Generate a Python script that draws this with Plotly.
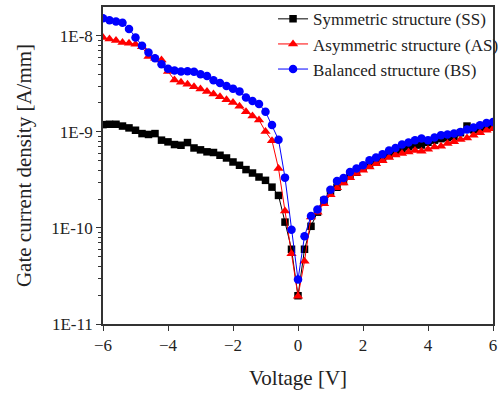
import plotly.graph_objects as go

voltage = [round(-6 + 0.2 * i, 1) for i in range(61)]

ss_current = [
    1.19e-9, 1.2e-9, 1.2e-9, 1.15e-9, 1.1e-9, 1.04e-9, 9.6e-10, 9.4e-10, 9.6e-10, 8.2e-10,
    7.87e-10, 7.38e-10, 7.26e-10, 7.74e-10, 6.8e-10, 6.5e-10, 6.2e-10, 6.1e-10, 5.71e-10, 5.35e-10,
    4.86e-10, 4.49e-10, 4.05e-10, 3.73e-10, 3.39e-10, 3.13e-10, 2.66e-10, 2.18e-10, 1.15e-10, 6.0e-11,
    1.97e-11,
    6.0e-11, 1.04e-10, 1.46e-10, 1.93e-10, 2.4e-10, 2.65e-10, 3.05e-10, 3.45e-10, 3.8e-10, 4.2e-10,
    4.6e-10, 4.95e-10, 5.3e-10, 5.7e-10, 6.2e-10, 6.6e-10, 7.0e-10, 7.3e-10, 7.3e-10, 7.8e-10,
    8.2e-10, 8.5e-10, 8.7e-10, 9.0e-10, 9.8e-10, 1.15e-9, 1.05e-9, 1.08e-9, 1.12e-9, 1.18e-9,
]

as_current = [
    9.6e-9, 9.24e-9, 8.93e-9, 8.5e-9, 8.39e-9, 8.19e-9, 7.7e-9, 6.08e-9, 5.85e-9, 5.6e-9,
    4.24e-9, 3.47e-9, 3.28e-9, 3.13e-9, 2.95e-9, 2.79e-9, 2.64e-9, 2.48e-9, 2.32e-9, 2.16e-9,
    2.02e-9, 1.85e-9, 1.62e-9, 1.46e-9, 1.33e-9, 1.01e-9, 8.1e-10, 4.16e-10, 1.5e-10, 5.4e-11,
    1.95e-11,
    4.5e-11, 1.3e-10, 1.46e-10, 1.79e-10, 2.22e-10, 2.62e-10, 2.93e-10, 3.34e-10, 3.68e-10, 3.98e-10,
    4.31e-10, 4.67e-10, 5.0e-10, 5.4e-10, 5.75e-10, 5.95e-10, 6.18e-10, 6.4e-10, 6.3e-10, 6.6e-10,
    6.97e-10, 7.1e-10, 7.57e-10, 7.87e-10, 8.34e-10, 8.66e-10, 9.25e-10, 9.77e-10, 1.04e-9, 1.08e-9,
]

bs_current = [
    1.52e-8, 1.45e-8, 1.41e-8, 1.37e-8, 1.18e-8, 9.6e-9, 7.9e-9, 6.7e-9, 5.85e-9, 5.05e-9,
    4.55e-9, 4.35e-9, 4.25e-9, 4.28e-9, 4.22e-9, 3.98e-9, 3.82e-9, 3.45e-9, 3.22e-9, 3.0e-9,
    2.82e-9, 2.64e-9, 2.28e-9, 2.1e-9, 1.95e-9, 1.62e-9, 1.18e-9, 8.3e-10, 3.34e-10, 9.6e-11,
    2.9e-11,
    8.2e-11, 1.33e-10, 1.56e-10, 1.97e-10, 2.5e-10, 3.08e-10, 3.31e-10, 3.82e-10, 4.15e-10, 4.49e-10,
    5.06e-10, 5.4e-10, 5.85e-10, 6.4e-10, 6.8e-10, 7.38e-10, 7.74e-10, 8.18e-10, 8.53e-10, 8.2e-10,
    8.75e-10, 9.25e-10, 9.4e-10, 9.6e-10, 1.0e-9, 1.06e-9, 1.11e-9, 1.17e-9, 1.24e-9, 1.27e-9,
]

series_names = ["Symmetric structure (SS)", "Asymmetric structure (AS)", "Balanced structure (BS)"]
x_ticks = [-6, -4, -2, 0, 2, 4, 6]
y_tickvals = [1e-11, 1e-10, 1e-9, 1e-8]
y_ticktext = ["1E-11", "1E-10", "1E-9", "1E-8"]

minor_vals = [m * 10.0 ** e for e in range(-11, -7) for m in range(2, 10)]

FONT = "Liberation Serif"

fig = go.Figure()
styles = [
    (ss_current, "black", "square", 7.5),
    (as_current, "red", "triangle-up", 9),
    (bs_current, "blue", "circle", 8.5),
]
for name, (vals, col, sym, sz) in zip(series_names, styles):
    fig.add_trace(go.Scatter(
        x=voltage, y=vals, name=name, mode="lines+markers",
        line=dict(color=col, width=1),
        marker=dict(color=col, symbol=sym, size=sz, line=dict(width=0)),
    ))

fig.update_layout(
    width=498, height=394,
    margin=dict(l=103, r=5, t=7, b=70, autoexpand=False),
    paper_bgcolor="white", plot_bgcolor="white",
    font=dict(family=FONT, color="#222", size=16),
    showlegend=True,
    legend=dict(
        x=0.436, y=1.018, xanchor="left", yanchor="top",
        bgcolor="rgba(0,0,0,0)", font=dict(family=FONT, size=17, color="#222"),
        tracegroupgap=0, itemwidth=30,
    ),
)
fig.update_xaxes(
    range=[-6, 6], tickvals=x_ticks, ticks="outside", ticklen=5, tickwidth=1,
    tickcolor="#333", showline=True, linecolor="#333", linewidth=1.5, mirror=True,
    showgrid=False, zeroline=False, tickfont=dict(family=FONT, size=17),
    title=dict(text="Voltage [V]", font=dict(family=FONT, size=21), standoff=16),
)
fig.update_yaxes(
    type="log", range=[-11, -7.7], tickvals=y_tickvals, ticktext=y_ticktext,
    ticks="outside", ticklen=5, tickwidth=1, tickcolor="#333",
    minor=dict(tickvals=minor_vals, ticks="outside", ticklen=3, tickcolor="#333"),
    showline=True, linecolor="#333", linewidth=1.5, mirror=True,
    showgrid=False, zeroline=False, tickfont=dict(family=FONT, size=17),
    title=dict(text="Gate current density [A/mm]", font=dict(family=FONT, size=21), standoff=14),
)

fig.write_html("out.html")
